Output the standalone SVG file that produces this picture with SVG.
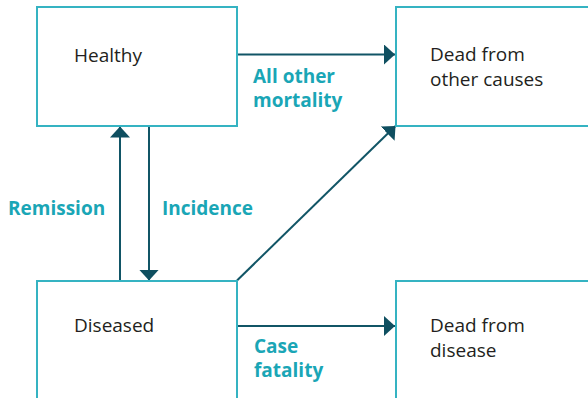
<svg xmlns="http://www.w3.org/2000/svg" width="588" height="398" viewBox="0 0 588 398">
<defs>
<style>
.box{fill:#ffffff;stroke:#35b3c2;stroke-width:2}
.node-text{font-family:"Open Sans","Noto Sans","Liberation Sans",sans-serif;font-size:19px;fill:#231f20}
.label{font-family:"Open Sans","Noto Sans","Liberation Sans",sans-serif;font-size:19px;font-weight:bold;fill:#1aa6b6}
.conn{stroke:#115566;stroke-width:2;fill:none}
</style>
<marker id="arrow" markerUnits="userSpaceOnUse" markerWidth="12" markerHeight="20" viewBox="0 0 12 20" refX="11" refY="10" orient="auto">
<path d="M0,0 L11,10 L0,20 Z" fill="#0f4f60"/>
</marker>
</defs>
<rect width="588" height="398" fill="#ffffff"/>
<g id="connectors">
<line class="conn" x1="237" y1="54.5" x2="395" y2="54.5" marker-end="url(#arrow)"/>
<line class="conn" x1="120" y1="280" x2="120" y2="126.5" marker-end="url(#arrow)"/>
<line class="conn" x1="149" y1="126" x2="149" y2="280.5" marker-end="url(#arrow)"/>
<line class="conn" x1="237" y1="280.5" x2="395.5" y2="126" marker-end="url(#arrow)"/>
<line class="conn" x1="237" y1="326" x2="395" y2="326" marker-end="url(#arrow)"/>
<text class="label" x="253" y="82.5">All other</text>
<text class="label" x="253" y="106.5">mortality</text>
<text class="label" x="8" y="215">Remission</text>
<text class="label" x="162" y="215">Incidence</text>
<text class="label" x="254" y="353">Case</text>
<text class="label" x="254" y="377">fatality</text>
</g>
<g id="healthy">
<rect class="box" x="37" y="7" width="200" height="119"/>
<text class="node-text" x="74" y="61.5">Healthy</text>
</g>
<g id="dead-other">
<rect class="box" x="396" y="7" width="200" height="119"/>
<text class="node-text" x="430" y="61">Dead from</text>
<text class="node-text" x="430" y="86">other causes</text>
</g>
<g id="diseased">
<rect class="box" x="37" y="281" width="200" height="130"/>
<text class="node-text" x="74" y="332">Diseased</text>
</g>
<g id="dead-disease">
<rect class="box" x="396" y="281" width="200" height="130"/>
<text class="node-text" x="430" y="331.5">Dead from</text>
<text class="node-text" x="430" y="356.5">disease</text>
</g>
</svg>
